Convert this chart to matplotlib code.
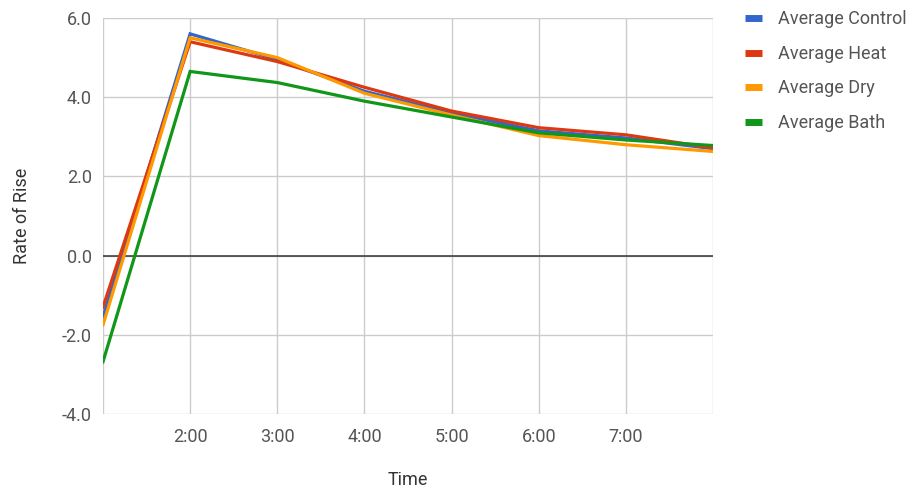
import matplotlib
matplotlib.use("Agg")
from matplotlib import pyplot as plt

# hours after start
hours = [1, 2, 3, 4, 5, 6, 7, 8]
tick_hours = [2, 3, 4, 5, 6, 7]
tick_labels = ['2:00', '3:00', '4:00', '5:00', '6:00', '7:00']

control = [-1.55, 5.6, 4.95, 4.15, 3.6, 3.15, 2.97, 2.7]
heat = [-1.3, 5.4, 4.9, 4.25, 3.65, 3.23, 3.05, 2.72]
dry = [-1.75, 5.5, 5.0, 4.1, 3.55, 3.03, 2.8, 2.63]
bath = [-2.68, 4.65, 4.37, 3.9, 3.5, 3.1, 2.92, 2.78]

series = [('Average Control', control, '#3366cc'),
          ('Average Heat', heat, '#dc3912'),
          ('Average Dry', dry, '#ff9900'),
          ('Average Bath', bath, '#109618')]

plt.rcParams['font.family'] = ['Roboto', 'DejaVu Sans']

fig = plt.figure(figsize=(9.13, 4.91), dpi=100)
ax = fig.add_axes([103/913, 1 - 414/491, 610/913, 396/491])

for name, vals, col in series:
    ax.plot(hours, vals, color=col, lw=2.3, label=name, solid_joinstyle='miter')

ax.axhline(0, color='#333333', lw=1.1, zorder=1)
ax.set_xlim(1, 8)
ax.set_ylim(-4, 6)
ax.set_xticks(tick_hours)
ax.set_xticklabels(tick_labels)
ax.set_yticks([-4, -2, 0, 2, 4, 6])
ax.set_yticklabels(['-4.0', '-2.0', '0.0', '2.0', '4.0', '6.0'])
for x in [1, 8]:
    ax.axvline(x, color='#cccccc', lw=1, zorder=0)
ax.grid(True, color='#cccccc', lw=1)
ax.set_axisbelow(True)
for s in ax.spines.values():
    s.set_visible(False)
ax.tick_params(length=0, labelsize=13, colors='#555555', pad=8)
ax.tick_params(axis='x', pad=10)

ax.set_xlabel('Time', fontsize=13, color='#333333', labelpad=18)
ax.set_ylabel('Rate of Rise', fontsize=13, color='#333333', labelpad=22)

leg = ax.legend(loc='upper left', bbox_to_anchor=(729/913, 1 + 6/491),
                bbox_transform=fig.transFigure, frameon=False, fontsize=13,
                handlelength=0.95, handletextpad=0.85, labelspacing=0.92)
for h in leg.get_lines():
    h.set_linewidth(5)
    h.set_solid_capstyle('butt')
for t in leg.get_texts():
    t.set_color('#555555')

fig.savefig('out.png', dpi=100)
